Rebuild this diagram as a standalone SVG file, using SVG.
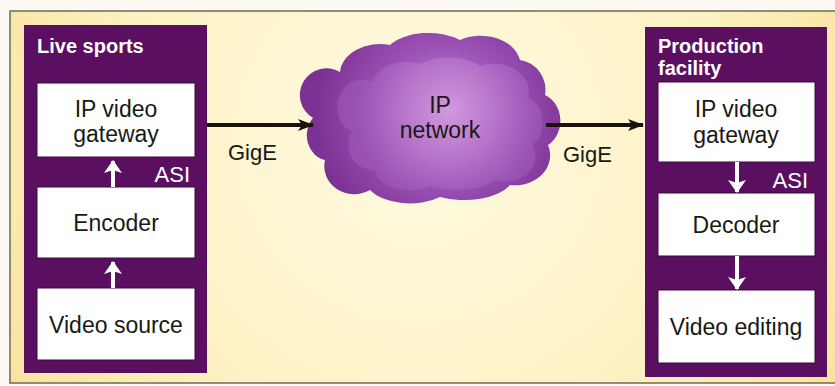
<svg xmlns="http://www.w3.org/2000/svg" width="835" height="386" viewBox="0 0 835 386">
<defs>
<radialGradient id="bg" cx="420" cy="140" r="520" gradientUnits="userSpaceOnUse">
<stop offset="0" stop-color="#fffbe3"/>
<stop offset="0.6" stop-color="#fdf1c2"/>
<stop offset="1" stop-color="#f9df96"/>
</radialGradient>
<radialGradient id="cloudg" cx="445" cy="115" r="130" gradientUnits="userSpaceOnUse">
<stop offset="0" stop-color="#c98ad8"/>
<stop offset="0.55" stop-color="#9a50b4"/>
<stop offset="1" stop-color="#7c3294"/>
</radialGradient>
<radialGradient id="cloudi" cx="450" cy="110" r="95" gradientUnits="userSpaceOnUse">
<stop offset="0" stop-color="#d39ae0" stop-opacity="0.9"/>
<stop offset="1" stop-color="#a35cbb" stop-opacity="0.5"/>
</radialGradient>
<marker id="ah" viewBox="0 0 16 12" refX="15" refY="6" markerWidth="16" markerHeight="12" markerUnits="userSpaceOnUse" orient="auto">
<path d="M0,0 L16,6 L0,12 L4,6 Z" fill="#1a1410"/>
</marker>
<marker id="wh" viewBox="0 0 13 18" refX="12" refY="9" markerWidth="13" markerHeight="18" markerUnits="userSpaceOnUse" orient="auto">
<path d="M0,0 L13,9 L0,18 L3,9 Z" fill="#ffffff"/>
</marker>
</defs>
<style>
.panel{fill:#5a0f61}
.box{fill:#ffffff;stroke:#3a0a40;stroke-width:1}
.t{font-family:"Liberation Sans",Arial,sans-serif;font-size:23px;fill:#161a14;text-anchor:middle}
.title{font-family:"Liberation Sans",Arial,sans-serif;font-size:20px;font-weight:bold;fill:#ffffff}
.asi{font-family:"Liberation Sans",Arial,sans-serif;font-size:22px;fill:#ffffff;text-anchor:end}
.lbl{font-family:"Liberation Sans",Arial,sans-serif;font-size:22px;fill:#161a14}
.conn{stroke:#1a1410;stroke-width:4;fill:none}
.wconn{stroke:#ffffff;stroke-width:4;fill:none}
</style>
<rect x="0" y="0" width="835" height="386" fill="#fbf9f2"/>
<rect x="10" y="11" width="830" height="372" fill="url(#bg)" stroke="#6e6a58" stroke-width="1.5"/>

<g id="live-sports">
<rect class="panel" x="24" y="25" width="183" height="348"/>
<text class="title" x="37" y="53">Live sports</text>
</g>
<g id="left-gateway">
<rect class="box" x="37" y="83" width="158" height="74"/>
<text class="t" x="116" y="117">IP video</text>
<text class="t" x="116" y="142">gateway</text>
</g>
<g id="encoder">
<rect class="box" x="37" y="187" width="158" height="71"/>
<text class="t" x="116" y="231">Encoder</text>
</g>
<g id="video-source">
<rect class="box" x="37" y="288" width="158" height="72"/>
<text class="t" x="116" y="333">Video source</text>
</g>

<g id="production-facility">
<rect class="panel" x="645" y="27" width="182" height="350"/>
<text class="title" x="658" y="53">Production</text>
<text class="title" x="658" y="75">facility</text>
</g>
<g id="right-gateway">
<rect class="box" x="658" y="82" width="157" height="80"/>
<text class="t" x="736" y="117">IP video</text>
<text class="t" x="736" y="143">gateway</text>
</g>
<g id="decoder">
<rect class="box" x="658" y="193" width="157" height="63"/>
<text class="t" x="736" y="233">Decoder</text>
</g>
<g id="video-editing">
<rect class="box" x="658" y="290" width="157" height="73"/>
<text class="t" x="736" y="335">Video editing</text>
</g>

<g id="ip-network">
<path d="M340,72 A40,30 0 0 1 390,45 A45,25 0 0 1 460,40 A40,30 0 0 1 520,60 A30,30 0 0 1 545,95 A25,28 0 0 1 548,145 A35,30 0 0 1 510,185 A50,25 0 0 1 440,197 A45,25 0 0 1 370,190 A30,28 0 0 1 325,160 A22,25 0 0 1 313,118 A25,25 0 0 1 340,72 Z" fill="url(#cloudg)"/>
<path d="M372,82 A35,25 0 0 1 420,64 A40,22 0 0 1 480,66 A35,28 0 0 1 528,98 A22,26 0 0 1 532,145 A30,25 0 0 1 495,180 A45,20 0 0 1 430,186 A35,22 0 0 1 375,170 A25,25 0 0 1 352,132 A22,24 0 0 1 372,82 Z" fill="url(#cloudi)"/>
<text class="t" x="440" y="113">IP</text>
<text class="t" x="440" y="138">network</text>
</g>

<g id="connectors">
<line class="conn" x1="207" y1="125" x2="313" y2="125" marker-end="url(#ah)"/>
<line class="conn" x1="546" y1="125" x2="643" y2="125" marker-end="url(#ah)"/>
<line class="wconn" x1="113" y1="187" x2="113" y2="161" marker-end="url(#wh)"/>
<line class="wconn" x1="113" y1="288" x2="113" y2="262" marker-end="url(#wh)"/>
<line class="wconn" x1="737" y1="162" x2="737" y2="192" marker-end="url(#wh)"/>
<line class="wconn" x1="737" y1="256" x2="737" y2="289" marker-end="url(#wh)"/>
<text class="lbl" x="228" y="160">GigE</text>
<text class="lbl" x="563" y="162">GigE</text>
<text class="asi" x="190" y="182">ASI</text>
<text class="asi" x="808" y="188">ASI</text>
</g>
</svg>
